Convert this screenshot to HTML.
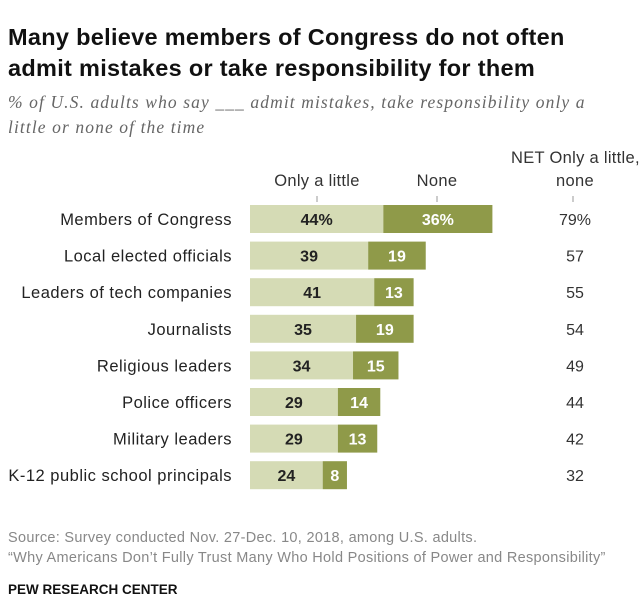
<!DOCTYPE html>
<html><head><meta charset="utf-8"><style>
body{margin:0;background:#fff;width:640px;height:600px;overflow:hidden;font-family:"Liberation Sans",sans-serif;}
</style></head><body>
<svg width="640" height="600" xmlns="http://www.w3.org/2000/svg">
<text x="8" y="45" font-size="23.5" font-weight="bold" fill="#111" letter-spacing="0.3">Many believe members of Congress do not often</text>
<text x="8" y="76" font-size="23.5" font-weight="bold" fill="#111" letter-spacing="0.3">admit mistakes or take responsibility for them</text>
<text x="8" y="108" font-size="17.5" font-style="italic" fill="#666" letter-spacing="1.1" font-family="Liberation Serif, serif">% of U.S. adults who say ___ admit mistakes, take responsibility only a</text>
<text x="8" y="133" font-size="17.5" font-style="italic" fill="#666" letter-spacing="1.1" font-family="Liberation Serif, serif">little or none of the time</text>
<text x="317" y="186" font-size="16.5" fill="#333" text-anchor="middle" letter-spacing="0.3">Only a little</text>
<text x="437" y="186" font-size="16.5" fill="#333" text-anchor="middle" letter-spacing="0.3">None</text>
<text x="511" y="163" font-size="16.5" fill="#333" letter-spacing="0.3">NET Only a little,</text>
<text x="575" y="186" font-size="16.5" fill="#333" text-anchor="middle" letter-spacing="0.3">none</text>
<line x1="317" y1="196" x2="317" y2="202" stroke="#999"/>
<line x1="437" y1="196" x2="437" y2="202" stroke="#999"/>
<line x1="573" y1="196" x2="573" y2="202" stroke="#999"/>
<g id="bars"></g>
<text x="8" y="542" font-size="14.5" fill="#888" letter-spacing="0.3">Source: Survey conducted Nov. 27-Dec. 10, 2018, among U.S. adults.</text>
<text x="8" y="562" font-size="14.5" fill="#888" letter-spacing="0.3">“Why Americans Don’t Fully Trust Many Who Hold Positions of Power and Responsibility”</text>
<text x="8" y="594" font-size="13.5" font-weight="bold" fill="#111">PEW RESEARCH CENTER</text>
</svg>
<script>
const categories=["Members of Congress","Local elected officials","Leaders of tech companies","Journalists","Religious leaders","Police officers","Military leaders","K-12 public school principals"];
const onlyLittle=[44,39,41,35,34,29,29,24];
const none=[36,19,13,19,15,14,13,8];
const net=[79,57,55,54,49,44,42,32];
const NS="http://www.w3.org/2000/svg";
const g=document.getElementById('bars');
const x0=250,k=3.03,y0=219,step=36.6,h=28;
const xs=v=>v*k, yc=i=>y0+i*step;
function mk(t,a){const e=document.createElementNS(NS,t);for(const p in a)e.setAttribute(p,a[p]);g.appendChild(e);return e;}
categories.forEach((c,i)=>{
 const y=yc(i);
 const lab=mk('text',{x:232,y:y+6,'font-size':16.5,fill:'#222','text-anchor':'end','letter-spacing':0.5});lab.textContent=c;
 
 
 const w1=xs(onlyLittle[i]),w2=xs(none[i]);
 const r1=mk('rect',{x:x0,y:y-h/2,width:w1,height:h,fill:'#d5dbb5'});
 
 
 const r2=mk('rect',{x:x0+w1,y:y-h/2,width:w2,height:h,fill:'#8f9a49'});
 
 
 const t1=mk('text',{x:x0+w1/2,y:y+6,'font-size':16,'font-weight':'bold',fill:'#222','text-anchor':'middle'});
 t1.textContent=onlyLittle[i]+(i===0?'%':'');
 
 
 const t2=mk('text',{x:x0+w1+w2/2,y:y+6,'font-size':16,'font-weight':'bold',fill:'#fff','text-anchor':'middle'});
 t2.textContent=none[i]+(i===0?'%':'');
 
 
 const t3=mk('text',{x:575,y:y+6,'font-size':16,fill:'#333','text-anchor':'middle'});
 t3.textContent=net[i]+(i===0?'%':'');
 
 
});
</script>
</body></html>
